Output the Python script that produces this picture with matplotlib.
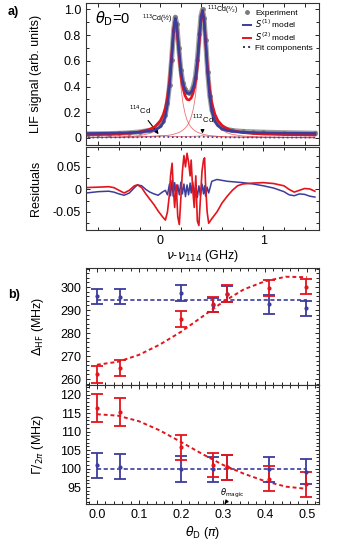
import numpy as np
import matplotlib
matplotlib.use("Agg")
import matplotlib.pyplot as plt
from matplotlib.ticker import MultipleLocator, FixedLocator, FixedFormatter
from matplotlib.lines import Line2D

plt.rcParams['font.family'] = ['Liberation Sans', 'DejaVu Sans']
plt.rcParams['mathtext.fontset'] = 'dejavusans'
plt.rcParams['font.size'] = 9

RED = '#e3141c'
BLUE = '#3c3c9c'
GRAY = '#7a7a7a'

# --- a) LIF spectrum (values read off the figure) ---
x_spec = [-0.7, -0.6, -0.5, -0.4, -0.3, -0.2, -0.1, -0.05, 0.0, 0.03, 0.05, 0.07, 0.09,
          0.11, 0.13, 0.146, 0.16, 0.18, 0.20, 0.22, 0.24, 0.26, 0.28, 0.30, 0.32, 0.34,
          0.36, 0.38, 0.395, 0.41, 0.425, 0.44, 0.46, 0.48, 0.50, 0.53, 0.56, 0.60, 0.65,
          0.70, 0.80, 0.90, 1.0, 1.2, 1.5]
experiment = [0.032, 0.033, 0.034, 0.036, 0.040, 0.047, 0.060, 0.072, 0.098, 0.135, 0.18,
              0.27, 0.41, 0.61, 0.84, 0.94, 0.89, 0.70, 0.53, 0.43, 0.38, 0.355, 0.35, 0.36,
              0.40, 0.47, 0.61, 0.81, 0.95, 1.0, 0.93, 0.76, 0.51, 0.33, 0.22, 0.14, 0.105,
              0.08, 0.066, 0.058, 0.051, 0.048, 0.045, 0.041, 0.037]
s1_model = [0.035, 0.036, 0.037, 0.039, 0.041, 0.045, 0.053, 0.062, 0.085, 0.12, 0.17, 0.26,
            0.40, 0.61, 0.84, 0.93, 0.88, 0.70, 0.53, 0.43, 0.375, 0.35, 0.345, 0.355, 0.39,
            0.46, 0.60, 0.80, 0.94, 0.99, 0.92, 0.75, 0.50, 0.32, 0.21, 0.13, 0.095, 0.07,
            0.058, 0.051, 0.045, 0.042, 0.040, 0.038, 0.036]
s2_model = [0.025, 0.027, 0.029, 0.032, 0.037, 0.046, 0.067, 0.089, 0.133, 0.183, 0.236,
            0.318, 0.446, 0.634, 0.846, 0.925, 0.870, 0.675, 0.50, 0.39, 0.33, 0.30, 0.295,
            0.31, 0.35, 0.43, 0.565, 0.766, 0.924, 0.993, 0.917, 0.751, 0.531, 0.374, 0.273,
            0.185, 0.134, 0.097, 0.071, 0.057, 0.042, 0.035, 0.030, 0.026, 0.023]
comp_113 = [0.003, 0.004, 0.005, 0.007, 0.011, 0.018, 0.035, 0.053, 0.091, 0.137, 0.185,
            0.263, 0.387, 0.573, 0.789, 0.87, 0.807, 0.595, 0.402, 0.272, 0.192, 0.140,
            0.106, 0.083, 0.066, 0.054, 0.045, 0.038, 0.034, 0.030, 0.027, 0.024, 0.021,
            0.019, 0.017, 0.015, 0.0125, 0.010, 0.008, 0.007, 0.005, 0.004, 0.003, 0.002,
            0.001]
comp_111 = [0.002, 0.002, 0.003, 0.004, 0.005, 0.006, 0.009, 0.011, 0.014, 0.016, 0.018,
            0.020, 0.022, 0.025, 0.029, 0.033, 0.036, 0.042, 0.050, 0.061, 0.075, 0.094,
            0.121, 0.161, 0.222, 0.318, 0.47, 0.691, 0.862, 0.94, 0.862, 0.691, 0.47, 0.318,
            0.222, 0.139, 0.094, 0.061, 0.039, 0.027, 0.015, 0.010, 0.007, 0.004, 0.002]
comp_small = [0.006, 0.006, 0.007, 0.007, 0.008, 0.010, 0.013, 0.015, 0.017, 0.016, 0.015,
              0.014, 0.013, 0.012, 0.012, 0.012, 0.012, 0.012, 0.012, 0.012, 0.012, 0.012,
              0.012, 0.012, 0.013, 0.013, 0.014, 0.015, 0.016, 0.017, 0.016, 0.015, 0.014,
              0.013, 0.012, 0.011, 0.010, 0.009, 0.008, 0.008, 0.007, 0.007, 0.006, 0.006,
              0.006]

# --- residuals ---
x_res = [-0.72, -0.6, -0.5, -0.45, -0.4, -0.35, -0.3, -0.25, -0.22, -0.18, -0.14, -0.1,
         -0.06, -0.02, 0.02, 0.05, 0.07, 0.09, 0.10, 0.115, 0.125, 0.14, 0.155, 0.17, 0.185,
         0.20, 0.215, 0.23, 0.245, 0.26, 0.275, 0.29, 0.30, 0.315, 0.33, 0.345, 0.36, 0.375,
         0.39, 0.405, 0.42, 0.43, 0.44, 0.455, 0.47, 0.50, 0.55, 0.60, 0.65, 0.70, 0.75,
         0.80, 0.9, 1.0, 1.1, 1.2, 1.25, 1.3, 1.35, 1.4, 1.45, 1.5]
res_s2 = [0.004, 0.005, 0.006, 0.004, -0.002, -0.008, -0.002, 0.008, 0.010, 0.004, -0.010,
          -0.022, -0.034, -0.048, -0.060, -0.068, -0.050, -0.010, 0.030, 0.058, 0.010, -0.040,
          0.010, -0.060, -0.078, -0.020, 0.040, 0.075, 0.050, 0.080, 0.060, 0.030, 0.065,
          0.000, -0.040, 0.030, -0.070, -0.080, -0.020, 0.040, 0.065, 0.070, 0.010, -0.050,
          -0.075, -0.065, -0.050, -0.030, -0.015, -0.002, 0.008, 0.012, 0.014, 0.015, 0.013,
          0.008, 0.000, -0.006, -0.002, 0.002, 0.001, -0.004]
res_s1 = [-0.008, -0.005, -0.004, -0.006, -0.010, -0.013, -0.008, 0.004, 0.010, 0.008, 0.000,
          -0.006, -0.010, -0.013, -0.006, -0.002, -0.012, 0.012, -0.014, 0.020, -0.015, 0.015,
          -0.018, 0.010, -0.012, 0.016, -0.010, 0.012, -0.016, 0.010, -0.012, 0.014, -0.008,
          0.016, -0.014, 0.010, -0.018, 0.008, -0.014, 0.012, -0.010, 0.008, -0.015, 0.005,
          -0.008, 0.018, 0.022, 0.020, 0.018, 0.017, 0.016, 0.015, 0.012, 0.008, 0.003,
          -0.005, -0.012, -0.014, -0.010, -0.011, -0.015, -0.017]

# --- b) fitted parameters vs theta_D ---
theta = [0.0, 0.056, 0.2, 0.277, 0.309, 0.409, 0.498]
dhf_s1 = [296.0, 295.8, 297.3, 292.2, 297.0, 292.5, 290.7]
dhf_s1_err = [3.3, 3.3, 3.4, 3.0, 3.3, 4.0, 3.3]
dhf_s2 = [262.1, 264.7, 286.0, 292.5, 297.2, 299.5, 300.2]
dhf_s2_err = [3.7, 3.6, 3.4, 3.3, 3.6, 3.4, 3.4]
gam_s1 = [100.85, 100.5, 99.9, 99.8, 100.3, 99.8, 99.1]
gam_s1_err = [3.45, 3.4, 3.5, 3.4, 3.4, 3.4, 3.4]
gam_s2 = [116.4, 115.25, 105.75, 100.95, 100.35, 97.3, 95.75]
gam_s2_err = [3.8, 3.75, 3.45, 3.35, 3.4, 3.4, 3.35]

theta_fit = [0.0, 0.05, 0.1, 0.15, 0.2, 0.25, 0.3, 0.35, 0.4, 0.45, 0.5]
dhf_fit = [266.2, 267.5, 270.5, 275.0, 280.5, 287.0, 293.5, 299.0, 302.5, 304.5, 304.3]
gam_fit = [114.7, 114.3, 112.8, 110.3, 107.2, 104.0, 101.0, 98.6, 96.6, 95.1, 94.5]
dhf_s1_fit = 294.5
gam_s1_fit = 100.0
theta_magic = 0.304

fig = plt.figure(figsize=(3.41, 5.44), dpi=100)
W, H = 341.0, 544.0


def box(l, t, r, b):
    return [l / W, 1 - b / H, (r - l) / W, (b - t) / H]


ax1 = fig.add_axes(box(86, 3, 319, 145))
ax2 = fig.add_axes(box(86, 147, 319, 230))
ax3 = fig.add_axes(box(86, 268, 319, 385))
ax4 = fig.add_axes(box(86, 385, 319, 504))

for ax in (ax1, ax2, ax3, ax4):
    ax.tick_params(which='both', direction='in', top=True, right=True, width=0.6)
    ax.tick_params(which='major', length=3)
    ax.tick_params(which='minor', length=2)
    for s in ax.spines.values():
        s.set_linewidth(0.8)
        s.set_color('#333333')

# top panel
ax1.plot(x_spec, experiment, color=GRAY, lw=3.6, alpha=0.7, zorder=2)
ax1.plot(x_spec, experiment, 'o', color=GRAY, ms=2.4, zorder=2)
ax1.plot(x_spec, comp_113, color=RED, lw=0.6, alpha=0.6, zorder=3)
ax1.plot(x_spec, comp_111, color=RED, lw=0.6, alpha=0.6, zorder=3)
ax1.plot(x_spec, comp_small, color=RED, lw=0.6, alpha=0.6, zorder=3)
ax1.plot(x_spec, [v * 0.5 for v in comp_small], ls=':', color=BLUE, lw=1.2, zorder=3)
ax1.plot(x_spec, s2_model, color=RED, lw=1.9, zorder=4)
ax1.plot(x_spec, s1_model, color=BLUE, lw=1.8, zorder=5)

ax1.set_xlim(-0.72, 1.54)
ax1.set_ylim(-0.055, 1.05)
ax1.xaxis.set_major_locator(MultipleLocator(0.2))
ax1.set_xticklabels([])
ax1.yaxis.set_major_locator(FixedLocator([0, 0.2, 0.4, 0.6, 0.8, 1.0]))
ax1.yaxis.set_major_formatter(FixedFormatter(['0', '0.2', '0.4', '0.6', '0.8', '1.0']))
ax1.yaxis.set_minor_locator(MultipleLocator(0.1))
ax1.set_ylabel('LIF signal (arb. units)')
ax1.yaxis.set_label_coords(-0.19, 0.5)

ax1.text(-0.63, 0.93, r'$\theta_{\rm D}$=0', fontsize=10.5, va='center')
ax1.text(0.12, 0.925, r'$^{113}$Cd(½)', fontsize=5, ha='right', va='center')
ax1.text(0.45, 0.99, r'$^{111}$Cd(³⁄₂)', fontsize=5, ha='left', va='center')
ax1.annotate(r'$^{114}$Cd', xy=(0.0, 0.012), xytext=(-0.2, 0.19), fontsize=5.5,
             ha='center', arrowprops=dict(arrowstyle='-|>', color='k', lw=0.8,
                                          mutation_scale=5))
ax1.annotate(r'$^{112}$Cd', xy=(0.41, 0.012), xytext=(0.41, 0.12), fontsize=5.5,
             ha='center', arrowprops=dict(arrowstyle='-|>', color='k', lw=0.8,
                                          mutation_scale=5))

handles = [Line2D([], [], ls='none', marker='o', ms=2.5, color=GRAY),
           Line2D([], [], color=BLUE, lw=1.4),
           Line2D([], [], color=RED, lw=1.4),
           Line2D([], [], color='#333355', lw=1.4, ls=':')]
ax1.legend(handles, ['Experiment', r'$S^{(1)}$ model', r'$S^{(2)}$ model', 'Fit components'],
           loc='upper right', fontsize=6, frameon=False, handlelength=1.0,
           handletextpad=0.5, labelspacing=0.1, borderaxespad=0.3)

# residuals
ax2.plot(x_res, res_s1, color=BLUE, lw=1.1)
ax2.plot(x_res, res_s2, color=RED, lw=1.2)
ax2.set_xlim(-0.72, 1.54)
ax2.set_ylim(-0.09, 0.094)
ax2.xaxis.set_major_locator(FixedLocator([0, 1]))
ax2.xaxis.set_major_formatter(FixedFormatter(['0', '1']))
ax2.xaxis.set_minor_locator(MultipleLocator(0.2))
ax2.yaxis.set_major_locator(FixedLocator([-0.05, 0, 0.05]))
ax2.yaxis.set_major_formatter(FixedFormatter(['-0.05', '0', '0.05']))
ax2.yaxis.set_minor_locator(MultipleLocator(0.025))
ax2.set_ylabel('Residuals')
ax2.yaxis.set_label_coords(-0.19, 0.5)
ax2.set_xlabel(r'$\nu$-$\nu_{114}$ (GHz)', labelpad=1)

# b) Delta_HF
ax3.hlines(dhf_s1_fit, theta_fit[0], theta_fit[-1], color=BLUE, ls=(0, (2.5, 1.5)), lw=1.2)
ax3.plot(theta_fit, dhf_fit, color=RED, ls=(0, (2, 1.5)), lw=1.4)
ax3.errorbar(theta, dhf_s1, yerr=dhf_s1_err, fmt='o', ms=2, color=BLUE, capsize=4,
             elinewidth=1.3, capthick=1.3)
ax3.errorbar(theta, dhf_s2, yerr=dhf_s2_err, fmt='o', ms=2, color=RED, capsize=4,
             elinewidth=1.3, capthick=1.3)
ax3.set_xlim(-0.026, 0.529)
ax3.set_ylim(257.4, 308.3)
ax3.set_xticklabels([])
ax3.xaxis.set_major_locator(MultipleLocator(0.1))
ax3.xaxis.set_minor_locator(MultipleLocator(0.02))
ax3.yaxis.set_major_locator(MultipleLocator(10))
ax3.yaxis.set_minor_locator(MultipleLocator(2))
ax3.set_ylabel(r'$\Delta_{\rm HF}$ (MHz)')
ax3.yaxis.set_label_coords(-0.17, 0.5)

# b) Gamma
ax4.hlines(gam_s1_fit, theta_fit[0], theta_fit[-1], color=BLUE, ls=(0, (2.5, 1.5)), lw=1.2)
ax4.plot(theta_fit, gam_fit, color=RED, ls=(0, (2, 1.5)), lw=1.4)
ax4.errorbar(theta, gam_s1, yerr=gam_s1_err, fmt='o', ms=2, color=BLUE, capsize=4,
             elinewidth=1.3, capthick=1.3)
ax4.errorbar(theta, gam_s2, yerr=gam_s2_err, fmt='o', ms=2, color=RED, capsize=4,
             elinewidth=1.3, capthick=1.3)
ax4.set_xlim(-0.026, 0.529)
ax4.set_ylim(90.4, 122.6)
ax4.set_xticks([0.0, 0.1, 0.2, 0.3, 0.4, 0.5])
ax4.set_xticklabels(['0.0', '0.1', '0.2', '0.3', '0.4', '0.5'])
ax4.xaxis.set_minor_locator(MultipleLocator(0.02))
ax4.yaxis.set_major_locator(MultipleLocator(5))
ax4.yaxis.set_minor_locator(MultipleLocator(1))
ax4.set_ylabel(r'$\Gamma/_{2\pi}$ (MHz)')
ax4.yaxis.set_label_coords(-0.17, 0.5)
ax4.set_xlabel(r'$\theta_{\rm D}$ ($\pi$)', labelpad=2)
ax4.annotate(r'$\theta_{\rm magic}$', xy=(theta_magic, 90.4), xytext=(theta_magic - 0.01, 93.2),
             fontsize=6, ha='left', va='center',
             arrowprops=dict(arrowstyle='-|>', color='k', lw=0.8, mutation_scale=5,
                             shrinkA=0, shrinkB=0))

fig.text(8 / W, 1 - 12 / H, 'a)', fontsize=9, fontweight='bold', va='center')
fig.text(8 / W, 1 - 295 / H, 'b)', fontsize=9, fontweight='bold', va='center')

fig.savefig('out.png', dpi=100)
